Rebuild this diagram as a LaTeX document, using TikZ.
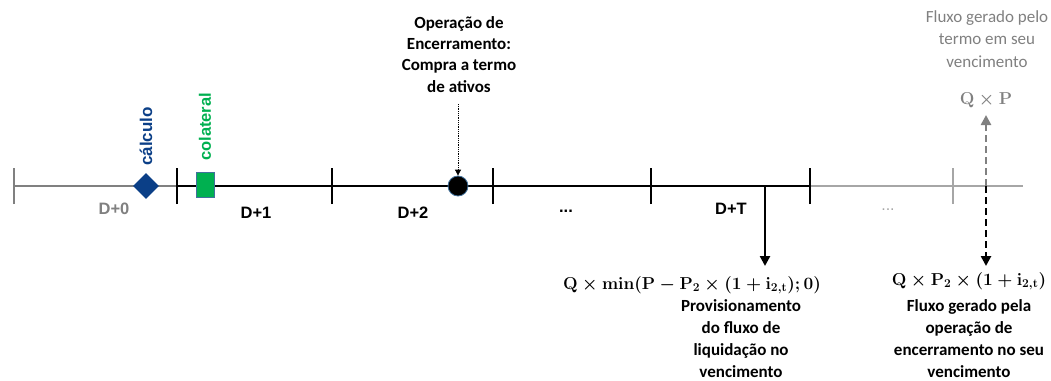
\documentclass[tikz,border=0pt]{standalone}
\usepackage{fontspec}
\setmainfont{Carlito}
\newfontfamily\arialf{Liberation Sans}
\usetikzlibrary{arrows.meta,shapes.geometric}
\definecolor{tlgray}{HTML}{808080}
\definecolor{ltgray}{HTML}{A6A6A6}
\definecolor{dblue}{HTML}{0B3F87}
\definecolor{grn}{HTML}{00B050}
\definecolor{bord}{HTML}{41719C}
\begin{document}
\begin{tikzpicture}[x=1pt,y=-1pt,
  tick/.style={line width=2.6pt},
  tline/.style={line width=2.6pt},
  dlabel/.style={font=\arialf\bfseries\fontsize{16.5}{18}\selectfont, inner sep=0pt},
  body/.style={align=center, font=\bfseries\fontsize{17}{21.8}\selectfont, inner sep=0pt, anchor=base},
  mathlbl/.style={font=\fontsize{17.28}{20}\selectfont\boldmath, inner sep=0pt},
  bigarrow/.style={line width=2.4pt, -{Triangle[length=10pt,width=10pt]}},
]
\useasboundingbox (0,0) rectangle (1051,380);

% timeline coordinates
\coordinate (a0) at (14,186);
\coordinate (a1) at (177,186);
\coordinate (a2) at (332,186);
\coordinate (a3) at (493,186);
\coordinate (a4) at (651,186);
\coordinate (a5) at (810,186);
\coordinate (a6) at (953,186);
\coordinate (aend) at (1023,186);

% lines
\draw[tline, tlgray] (a0) -- (a1);
\draw[tline, black] (a1) -- (a5);
\draw[tline, ltgray] (a5) -- (aend);

% ticks
\draw[tick, tlgray] ([yshift=-18pt]a0) -- ([yshift=18pt]a0);
\foreach \t in {a1,a2,a3,a4,a5}
  \draw[tick, black] ([yshift=-18pt]\t) -- ([yshift=18pt]\t);
\draw[tick, ltgray] ([yshift=-18pt]a6) -- ([yshift=18pt]a6);

% period labels
\node[dlabel, text=tlgray] (d0) at (114,209) {D+0};
\node[dlabel] (d1) at (256,213) {D+1};
\node[dlabel] (d2) at (413,213) {D+2};
\node[dlabel] (d3) at (566,211) {...};
\node[dlabel] (dT) at (731,209) {D+T};
\node[dlabel, text=ltgray, font=\arialf\fontsize{16}{18}\selectfont] (d5) at (888,210) {...};

% calculo diamond
\node[diamond, fill=dblue, minimum width=26pt, minimum height=26pt, inner sep=0pt] (calc) at (146,186) {};
\node[font=\arialf\bfseries\fontsize{17}{19}\selectfont, text=dblue, rotate=90, anchor=west, inner sep=0pt] (calctxt) at (146,166) {cálculo};

% colateral square
\node[rectangle, fill=grn, draw=bord, line width=0.8pt, minimum width=18pt, minimum height=25pt, inner sep=0pt] (col) at (205,185) {};
\node[font=\arialf\bfseries\fontsize{16.5}{19}\selectfont, text=grn, rotate=90, anchor=west, inner sep=0pt] (coltxt) at (205,161) {colateral};

% encerramento circle
\node[circle, fill=black, draw=bord, line width=0.8pt, minimum size=20pt, inner sep=0pt] (enc) at (458,186) {};
\node[body, font=\bfseries\fontsize{17}{21.3}\selectfont] (enctxt) at (459,92) {Operação de\\Encerramento:\\Compra a termo\\de ativos};
\coordinate (encstart) at (458,104);
\draw[densely dotted, line width=0.8pt, -{Triangle[length=6pt,width=6pt]}] (encstart) -- (enc.north);

% D+T arrow
\coordinate (dtpt) at (765,186);
\node[mathlbl] (m1) at (692,285) {$\mathbf{Q}\times\mathbf{min}(\mathbf{P}-\mathbf{P}_{\mathbf{2}}\times(\mathbf{1}+\mathbf{i}_{\mathbf{2,t}});\mathbf{0})$};
\coordinate (dtend) at (765,266);
\draw[bigarrow] (dtpt) -- (dtend);
\node[body] (t1) at (741,377) {Provisionamento\\do fluxo de\\liquidação no\\vencimento};

% right flows
\coordinate (rpt) at (986,186);
\coordinate (rup) at (986,115);
\coordinate (rdown) at (986,266);
\draw[line width=2.6pt, tlgray, dash pattern=on 7pt off 4pt, -{Triangle[length=10pt,width=10pt]}] (rpt) -- (rup);
\draw[line width=2.6pt, black, dash pattern=on 7pt off 4pt, -{Triangle[length=10pt,width=10pt]}] (rpt) -- (rdown);
\node[mathlbl, text=tlgray] (qp) at (986,100) {$\mathbf{Q}\times\mathbf{P}$};
\node[body, text=tlgray, font=\fontsize{17}{22.5}\selectfont] (tt) at (987,67) {Fluxo gerado pelo\\termo em seu\\vencimento};
\node[mathlbl] (m2) at (969,281) {$\mathbf{Q}\times\mathbf{P}_{\mathbf{2}}\times(\mathbf{1}+\mathbf{i}_{\mathbf{2,t}})$};
\node[body] (t2) at (969,377) {Fluxo gerado pela\\operação de\\encerramento no seu\\vencimento};
\end{tikzpicture}
\end{document}
